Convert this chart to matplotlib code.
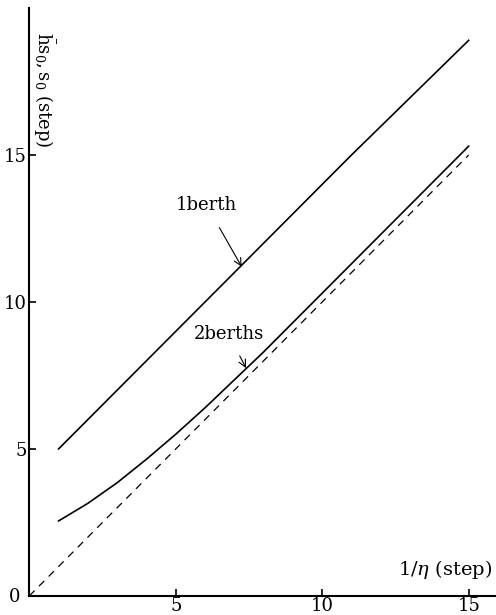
import matplotlib
matplotlib.use('Agg')
import matplotlib.pyplot as plt

plt.rcParams['font.family'] = ['DejaVu Serif']
plt.rcParams['mathtext.fontset'] = 'dejavuserif'

# 1 berth
x1 = [1, 3, 5, 7, 9, 11, 13, 15]
y1 = [5.0, 7.0, 9.0, 11.0, 13.0, 15.0, 16.95, 18.9]

# 2 berths
x2 = [1, 1.5, 2, 2.5, 3, 3.5, 4, 5, 6, 7, 8, 9, 10, 11, 12, 13, 14, 15]
y2 = [2.55, 2.85, 3.15, 3.5, 3.85, 4.25, 4.65, 5.5, 6.4, 7.35, 8.3, 9.3,
      10.3, 11.3, 12.3, 13.3, 14.3, 15.3]

# reference line s0 = 1/eta
x_ref = [0, 15]
y_ref = [0, 15]

xticks = [5, 10, 15]
yticks = [5, 10, 15]

fig = plt.figure(figsize=(4.96, 6.15), dpi=100)
ax = fig.add_axes([0.059, 0.031, 0.945, 0.956])
ax.set_xlim(0, 16)
ax.set_ylim(0, 20)

ax.plot(x1, y1, color='black', lw=1.2)
ax.plot(x2, y2, color='black', lw=1.2)
ax.plot(x_ref, y_ref, color='black', lw=0.9, ls=(0, (6, 5)))

for s in ['top', 'right']:
    ax.spines[s].set_visible(False)
for s in ['left', 'bottom']:
    ax.spines[s].set_linewidth(1.5)

ax.set_xticks(xticks)
ax.set_yticks(yticks)
ax.tick_params(direction='in', length=5, width=1.2, labelsize=13)
ax.tick_params(axis='x', pad=1)
ax.tick_params(axis='y', pad=2)
ax.text(-0.3, -0.05, '0', ha='right', va='center', fontsize=13)

ax.text(0.5, 19.2, r'$\bar{\mathrm{h}}\mathrm{s}_0, \mathrm{s}_0$ (step)',
        rotation=-90, ha='center', va='top', fontsize=13)
ax.text(15.8, 0.9, r'1/$\eta$ (step)', ha='right', va='center', fontsize=14)

ax.annotate('1berth', xy=(7.25, 11.2), xytext=(6.05, 13.3),
            ha='center', va='center', fontsize=13,
            arrowprops=dict(arrowstyle='->', color='black', lw=0.8,
                            shrinkA=9, shrinkB=0))
ax.annotate('2berths', xy=(7.4, 7.75), xytext=(6.8, 8.9),
            ha='center', va='center', fontsize=13,
            arrowprops=dict(arrowstyle='->', color='black', lw=0.8,
                            shrinkA=8, shrinkB=0))

fig.savefig('out.png', dpi=100, facecolor='white')
